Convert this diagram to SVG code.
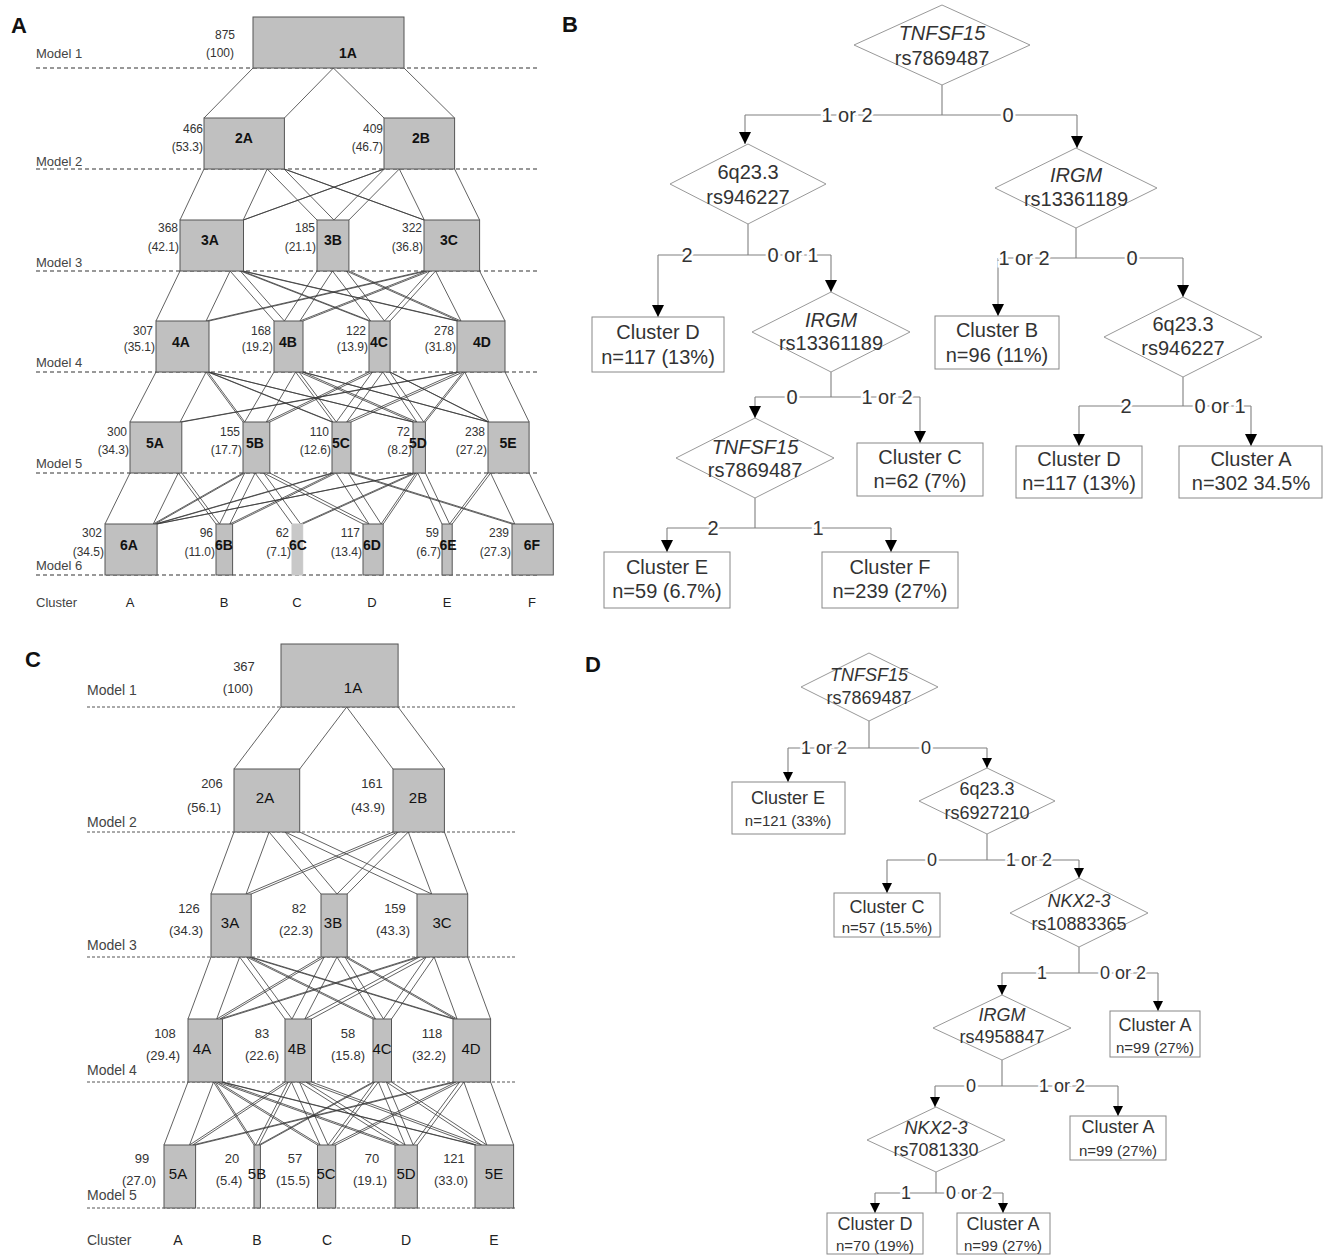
<svg xmlns="http://www.w3.org/2000/svg" width="1324" height="1255" viewBox="0 0 1324 1255">
<style>
.bg{fill:#fff}
.pl{font-family:"Liberation Sans",Arial,sans-serif;font-weight:bold;font-size:22px;fill:#111}
.nar{font-family:"Liberation Sans Narrow","Arial Narrow","Liberation Sans",sans-serif}
.dashA{stroke:#333;stroke-width:1.2;stroke-dasharray:4 3;fill:none}
.dashC{stroke:#555;stroke-width:1;stroke-dasharray:3 2;fill:none}
.flow{stroke:#3a3a3a;stroke-width:0.8;fill:none}
.box{fill:#c0c0c0;stroke:#555;stroke-width:1}
.mA{font-size:13px;fill:#444}
.nA{font-size:12px;fill:#333;text-anchor:end}
.lA{font-size:14px;font-weight:bold;fill:#111;text-anchor:middle;dominant-baseline:central}
.mC{font-size:14px;fill:#444}
.nC{font-size:13px;fill:#333;text-anchor:middle}
.lC{font-size:15px;fill:#111;text-anchor:middle;dominant-baseline:central}
.cl{text-anchor:middle}
.tl{stroke:#808080;stroke-width:1.1;fill:none}
.ar{stroke:#808080;stroke-width:1.1;fill:none}
.dia{fill:#fff;stroke:#999;stroke-width:1}
.tb{fill:#fff;stroke:#888;stroke-width:1}
.tB{font-family:"Liberation Sans",Arial,sans-serif;font-size:20px;fill:#333;text-anchor:middle;dominant-baseline:central}
.tD{font-family:"Liberation Sans",Arial,sans-serif;font-size:18px;fill:#333;text-anchor:middle;dominant-baseline:central}
.tDs{font-family:"Liberation Sans",Arial,sans-serif;font-size:15px;fill:#333;text-anchor:middle;dominant-baseline:central}
.it{font-style:italic}
.lbB{font-family:"Liberation Sans",Arial,sans-serif;font-size:20px;fill:#333;text-anchor:middle;dominant-baseline:central;stroke:#fff;stroke-width:5;paint-order:stroke}
.lbD{font-family:"Liberation Sans",Arial,sans-serif;font-size:18px;fill:#333;text-anchor:middle;dominant-baseline:central;stroke:#fff;stroke-width:5;paint-order:stroke}
</style>
<defs>
<marker id="ahB" viewBox="0 0 12 12" refX="12" refY="6" markerWidth="12" markerHeight="12" markerUnits="userSpaceOnUse" orient="auto"><path d="M0,0 L12,6 L0,12 z" fill="#000"/></marker>
<marker id="ahD" viewBox="0 0 10 10" refX="10" refY="5" markerWidth="10" markerHeight="10" markerUnits="userSpaceOnUse" orient="auto"><path d="M0,0 L10,5 L0,10 z" fill="#000"/></marker>
</defs>
<rect class="bg" x="0" y="0" width="1324" height="1255"/>

<text class="pl" x="11" y="33">A</text>
<text class="pl" x="562" y="32">B</text>
<text class="pl" x="25" y="667">C</text>
<text class="pl" x="585" y="672">D</text>

<!-- Panel A scaffolding -->
<g id="panelA-axes" class="nar">
<path class="dashA" d="M36 68H540 M36 169H540 M36 271H540 M36 372H540 M36 473H540 M36 575H540"/>
<text class="mA" x="36" y="58">Model 1</text>
<text class="mA" x="36" y="166">Model 2</text>
<text class="mA" x="36" y="267">Model 3</text>
<text class="mA" x="36" y="367">Model 4</text>
<text class="mA" x="36" y="468">Model 5</text>
<text class="mA" x="36" y="570">Model 6</text>
<text class="mA" x="36" y="607">Cluster</text>
<g class="cl" style="font-size:13px;fill:#222">
<text x="130" y="607">A</text><text x="224" y="607">B</text><text x="297" y="607">C</text><text x="372" y="607">D</text><text x="447" y="607">E</text><text x="532" y="607">F</text>
</g>
</g>

<g id="connectorsA">
<path class="flow" d="M253 68L204 118 M333.4 68L284.4 118 M333.4 68L384 118 M404 68L454.6 118"/>
<path class="flow" d="M204 169L180 220 M267.2 169L243.2 220 M267.2 169L317 220 M284.1 169L333.9 220 M284.1 169L424 220 M284.4 169L424.3 220 M384 169L243.2 220 M384.3 169L243.5 220 M384.3 169L333.9 220 M399.3 169L348.9 220 M399.3 169L424.3 220 M454.6 169L479.6 220"/>
<path class="flow" d="M180 271L156 321 M230.1 271L206.1 321 M230.1 271L274 321 M240.4 271L284.4 321 M240.4 271L369 321 M242.1 271L370.7 321 M242.1 271L457 321 M243.5 271L458.4 321 M317 271L284.4 321 M332.5 271L299.9 321 M332.5 271L370.7 321 M346.3 271L384.5 321 M346.3 271L458.4 321 M348.9 271L461 321 M424 271L206.1 321 M426.9 271L209 321 M426.9 271L299.9 321 M430 271L303 321 M430 271L384.5 321 M435.6 271L390.1 321 M435.6 271L461 321 M479.6 271L505 321"/>
<path class="flow" d="M156 372L130 422 M206.1 372L180.1 422 M206.1 372L243 422 M207.8 372L244.7 422 M207.8 372L332 422 M208.6 372L332.9 422 M208.6 372L413 422 M209 372L413.4 422 M274 372L244.7 422 M295.6 372L266.3 422 M295.6 372L332.9 422 M299 372L336.3 422 M299 372L413.4 422 M302.5 372L416.8 422 M302.5 372L488 422 M303 372L488.5 422 M369 372L266.3 422 M372.5 372L269.8 422 M372.5 372L336.3 422 M382.8 372L346.7 422 M382.8 372L416.8 422 M389.7 372L423.7 422 M389.7 372L488.5 422 M390.1 372L488.9 422 M457 372L180.1 422 M458.7 372L181.8 422 M458.7 372L346.7 422 M463.1 372L351 422 M463.1 372L423.7 422 M464.8 372L425.4 422 M464.8 372L488.9 422 M505 372L529.1 422"/>
<path class="flow" d="M130 473L105 524 M178.3 473L153.3 524 M178.3 473L216 524 M181.8 473L219.5 524 M243 473L153.3 524 M244.7 473L155.1 524 M244.7 473L219.5 524 M255.1 473L229.8 524 M255.1 473L292 524 M263.7 473L300.6 524 M263.7 473L363 524 M269.8 473L369 524 M332 473L155.1 524 M333.4 473L156.4 524 M333.4 473L229.8 524 M336.1 473L232.6 524 M336.1 473L369 524 M348.2 473L381.1 524 M348.2 473L512 524 M351 473L514.8 524 M413 473L156.4 524 M413.7 473L157.1 524 M413.7 473L300.6 524 M415.8 473L302.7 524 M415.8 473L381.1 524 M417.8 473L383.2 524 M417.8 473L442 524 M425.4 473L449.6 524 M488 473L449.6 524 M490.6 473L452.2 524 M490.6 473L514.8 524 M529.1 473L553.3 524"/>
</g>

<g class="nar">
<g id="A-1A"><rect class="box" x="253" y="17" width="151" height="51"/><text class="lA" x="348" y="53">1A</text><text class="nA" style="text-anchor:middle" x="225" y="39">875</text><text class="nA" style="text-anchor:middle" x="220" y="57">(100)</text></g>
<g id="A-2A"><rect class="box" x="204" y="118" width="80.4" height="51"/><text class="lA" x="244" y="138">2A</text><text class="nA" x="203" y="133">466</text><text class="nA" x="203" y="151">(53.3)</text></g>
<g id="A-2B"><rect class="box" x="384" y="118" width="70.6" height="51"/><text class="lA" x="421" y="138">2B</text><text class="nA" x="383" y="133">409</text><text class="nA" x="383" y="151">(46.7)</text></g>
<g id="A-3A"><rect class="box" x="180" y="220" width="63.5" height="51"/><text class="lA" x="210" y="240">3A</text><text class="nA" x="178" y="232">368</text><text class="nA" x="179" y="251">(42.1)</text></g>
<g id="A-3B"><rect class="box" x="317" y="220" width="31.9" height="51"/><text class="lA" x="333" y="240">3B</text><text class="nA" x="315" y="232">185</text><text class="nA" x="316" y="251">(21.1)</text></g>
<g id="A-3C"><rect class="box" x="424" y="220" width="55.6" height="51"/><text class="lA" x="449" y="240">3C</text><text class="nA" x="422" y="232">322</text><text class="nA" x="423" y="251">(36.8)</text></g>
<g id="A-4A"><rect class="box" x="156" y="321" width="53" height="51"/><text class="lA" x="181" y="342">4A</text><text class="nA" x="153" y="335">307</text><text class="nA" x="155" y="351">(35.1)</text></g>
<g id="A-4B"><rect class="box" x="274" y="321" width="29" height="51"/><text class="lA" x="288" y="342">4B</text><text class="nA" x="271" y="335">168</text><text class="nA" x="273" y="351">(19.2)</text></g>
<g id="A-4C"><rect class="box" x="369" y="321" width="21.1" height="51"/><text class="lA" x="379" y="342">4C</text><text class="nA" x="366" y="335">122</text><text class="nA" x="368" y="351">(13.9)</text></g>
<g id="A-4D"><rect class="box" x="457" y="321" width="48" height="51"/><text class="lA" x="482" y="342">4D</text><text class="nA" x="454" y="335">278</text><text class="nA" x="456" y="351">(31.8)</text></g>
<g id="A-5A"><rect class="box" x="130" y="422" width="51.8" height="51"/><text class="lA" x="155" y="443">5A</text><text class="nA" x="127" y="436">300</text><text class="nA" x="129" y="454">(34.3)</text></g>
<g id="A-5B"><rect class="box" x="243" y="422" width="26.8" height="51"/><text class="lA" x="255" y="443">5B</text><text class="nA" x="240" y="436">155</text><text class="nA" x="242" y="454">(17.7)</text></g>
<g id="A-5C"><rect class="box" x="332" y="422" width="19" height="51"/><text class="lA" x="341" y="443">5C</text><text class="nA" x="329" y="436">110</text><text class="nA" x="331" y="454">(12.6)</text></g>
<g id="A-5D"><rect class="box" x="413" y="422" width="12.4" height="51"/><text class="lA" x="418" y="443">5D</text><text class="nA" x="410" y="436">72</text><text class="nA" x="412" y="454">(8.2)</text></g>
<g id="A-5E"><rect class="box" x="488" y="422" width="41.1" height="51"/><text class="lA" x="508" y="443">5E</text><text class="nA" x="485" y="436">238</text><text class="nA" x="487" y="454">(27.2)</text></g>
<g id="A-6A"><rect class="box" x="105" y="524" width="52.1" height="51"/><text class="lA" x="129" y="545">6A</text><text class="nA" x="102" y="537">302</text><text class="nA" x="104" y="556">(34.5)</text></g>
<g id="A-6B"><rect class="box" x="216" y="524" width="16.6" height="51"/><text class="lA" x="224" y="545">6B</text><text class="nA" x="213" y="537">96</text><text class="nA" x="215" y="556">(11.0)</text></g>
<g id="A-6C"><rect class="box" x="292" y="524" width="10.7" height="51" style="fill:#c8c8c8;stroke:#c8c8c8"/><text class="lA" x="298" y="545">6C</text><text class="nA" x="289" y="537">62</text><text class="nA" x="291" y="556">(7.1)</text></g>
<g id="A-6D"><rect class="box" x="363" y="524" width="20.2" height="51"/><text class="lA" x="372" y="545">6D</text><text class="nA" x="360" y="537">117</text><text class="nA" x="362" y="556">(13.4)</text></g>
<g id="A-6E"><rect class="box" x="442" y="524" width="10.2" height="51"/><text class="lA" x="448" y="545">6E</text><text class="nA" x="439" y="537">59</text><text class="nA" x="441" y="556">(6.7)</text></g>
<g id="A-6F"><rect class="box" x="512" y="524" width="41.3" height="51"/><text class="lA" x="532" y="545">6F</text><text class="nA" x="509" y="537">239</text><text class="nA" x="511" y="556">(27.3)</text></g>
</g>

<!-- Panel C scaffolding -->
<g id="panelC-axes" class="nar">
<path class="dashC" d="M87 707H515 M87 832H515 M87 957H515 M87 1082H515 M87 1208H515"/>
<text class="mC" x="87" y="695">Model 1</text>
<text class="mC" x="87" y="827">Model 2</text>
<text class="mC" x="87" y="950">Model 3</text>
<text class="mC" x="87" y="1075">Model 4</text>
<text class="mC" x="87" y="1200">Model 5</text>
<text class="mC" x="87" y="1245">Cluster</text>
<g class="cl" style="font-size:14px;fill:#222">
<text x="178" y="1245">A</text><text x="257" y="1245">B</text><text x="327" y="1245">C</text><text x="406" y="1245">D</text><text x="494" y="1245">E</text>
</g>
</g>

<g id="connectorsC">
<path class="flow" d="M281 707L234 769 M346.7 707L299.7 769 M346.7 707L393 769 M398.1 707L444.4 769"/>
<path class="flow" d="M234 832L211 894 M269.1 832L246.1 894 M269.1 832L321 894 M285 832L337 894 M285 832L417 894 M299.7 832L431.7 894 M393 832L246.1 894 M398.1 832L251.2 894 M398.1 832L337 894 M408.3 832L347.2 894 M408.3 832L431.7 894 M444.4 832L467.7 894"/>
<path class="flow" d="M211 957L188 1019 M239.7 957L216.7 1019 M239.7 957L285 1019 M246.7 957L292 1019 M246.7 957L373 1019 M249.3 957L375.6 1019 M249.3 957L453 1019 M251.2 957L454.9 1019 M321 957L216.7 1019 M324.2 957L219.9 1019 M324.2 957L292 1019 M337 957L304.8 1019 M337 957L375.6 1019 M344.9 957L383.5 1019 M344.9 957L454.9 1019 M347.2 957L457.1 1019 M417 957L219.9 1019 M419.6 957L222.5 1019 M419.6 957L304.8 1019 M426.3 957L311.5 1019 M426.3 957L383.5 1019 M434.2 957L391.5 1019 M434.2 957L457.1 1019 M467.7 957L490.6 1019"/>
<path class="flow" d="M188 1082L164 1145 M213.5 1082L189.5 1145 M213.5 1082L254 1145 M215.1 1082L255.6 1145 M215.1 1082L317.5 1145 M217.7 1082L320.1 1145 M217.7 1082L395 1145 M221.5 1082L398.8 1145 M221.5 1082L475 1145 M222.5 1082L476 1145 M285 1082L189.5 1145 M288.2 1082L192.7 1145 M288.2 1082L255.6 1145 M291.4 1082L258.8 1145 M291.4 1082L320.1 1145 M299.4 1082L328 1145 M299.4 1082L398.8 1145 M305.7 1082L405.2 1145 M305.7 1082L476 1145 M311.5 1082L481.7 1145 M373 1082L258.8 1145 M374.6 1082L260.4 1145 M374.6 1082L328 1145 M378.4 1082L331.9 1145 M378.4 1082L405.2 1145 M386.4 1082L413.2 1145 M386.4 1082L481.7 1145 M391.5 1082L486.8 1145 M453 1082L192.7 1145 M455.9 1082L195.6 1145 M455.9 1082L331.9 1145 M459.7 1082L335.7 1145 M459.7 1082L413.2 1145 M463.9 1082L417.3 1145 M463.9 1082L486.8 1145 M490.6 1082L513.6 1145"/>
</g>

<g class="nar">
<g id="C-1A"><rect class="box" x="281" y="644" width="117.1" height="63"/><text class="lC" x="353" y="687">1A</text><text class="nC" x="244" y="671">367</text><text class="nC" x="238" y="693">(100)</text></g>
<g id="C-2A"><rect class="box" x="234" y="769" width="65.7" height="63"/><text class="lC" x="265" y="797">2A</text><text class="nC" x="212" y="788">206</text><text class="nC" x="204" y="812">(56.1)</text></g>
<g id="C-2B"><rect class="box" x="393" y="769" width="51.4" height="63"/><text class="lC" x="418" y="797">2B</text><text class="nC" x="372" y="788">161</text><text class="nC" x="368" y="812">(43.9)</text></g>
<g id="C-3A"><rect class="box" x="211" y="894" width="40.2" height="63"/><text class="lC" x="230" y="922">3A</text><text class="nC" x="189" y="913">126</text><text class="nC" x="186" y="935">(34.3)</text></g>
<g id="C-3B"><rect class="box" x="321" y="894" width="26.2" height="63"/><text class="lC" x="333" y="922">3B</text><text class="nC" x="299" y="913">82</text><text class="nC" x="296" y="935">(22.3)</text></g>
<g id="C-3C"><rect class="box" x="417" y="894" width="50.7" height="63"/><text class="lC" x="442" y="922">3C</text><text class="nC" x="395" y="913">159</text><text class="nC" x="393" y="935">(43.3)</text></g>
<g id="C-4A"><rect class="box" x="188" y="1019" width="34.5" height="63"/><text class="lC" x="202" y="1048">4A</text><text class="nC" x="165" y="1038">108</text><text class="nC" x="163" y="1060">(29.4)</text></g>
<g id="C-4B"><rect class="box" x="285" y="1019" width="26.5" height="63"/><text class="lC" x="297" y="1048">4B</text><text class="nC" x="262" y="1038">83</text><text class="nC" x="262" y="1060">(22.6)</text></g>
<g id="C-4C"><rect class="box" x="373" y="1019" width="18.5" height="63"/><text class="lC" x="382" y="1048">4C</text><text class="nC" x="348" y="1038">58</text><text class="nC" x="348" y="1060">(15.8)</text></g>
<g id="C-4D"><rect class="box" x="453" y="1019" width="37.6" height="63"/><text class="lC" x="471" y="1048">4D</text><text class="nC" x="432" y="1038">118</text><text class="nC" x="429" y="1060">(32.2)</text></g>
<g id="C-5A"><rect class="box" x="164" y="1145" width="31.6" height="63"/><text class="lC" x="178" y="1173">5A</text><text class="nC" x="142" y="1163">99</text><text class="nC" x="139" y="1185">(27.0)</text></g>
<g id="C-5B"><rect class="box" x="254" y="1145" width="6.4" height="63"/><text class="lC" x="257" y="1173">5B</text><text class="nC" x="232" y="1163">20</text><text class="nC" x="229" y="1185">(5.4)</text></g>
<g id="C-5C"><rect class="box" x="317.5" y="1145" width="18.2" height="63"/><text class="lC" x="326" y="1173">5C</text><text class="nC" x="295" y="1163">57</text><text class="nC" x="293" y="1185">(15.5)</text></g>
<g id="C-5D"><rect class="box" x="395" y="1145" width="22.3" height="63"/><text class="lC" x="406" y="1173">5D</text><text class="nC" x="372" y="1163">70</text><text class="nC" x="370" y="1185">(19.1)</text></g>
<g id="C-5E"><rect class="box" x="475" y="1145" width="38.6" height="63"/><text class="lC" x="494" y="1173">5E</text><text class="nC" x="454" y="1163">121</text><text class="nC" x="451" y="1185">(33.0)</text></g>
</g>

<!-- Panel B connectors -->
<g id="connectorsB">
<path class="tl" d="M942 85V115 M745 115H1077 M748 224V255 M658 255H831 M831 372V397 M755 397H920 M755 498V528 M667 528H891 M1076 228V258 M998 258H1183 M1183 377V406 M1079 406H1251"/>
<g class="ar" marker-end="url(#ahB)">
<path d="M745 115V144"/><path d="M1077 115V148"/>
<path d="M658 255V317"/><path d="M831 255V292"/>
<path d="M755 397V418"/><path d="M920 397V443"/>
<path d="M667 528V552"/><path d="M891 528V552"/>
<path d="M998 258V316"/><path d="M1183 258V297"/>
<path d="M1079 406V446"/><path d="M1251 406V446"/>
</g>
<text class="lbB" x="847" y="115">1 or 2</text><text class="lbB" x="1008" y="115">0</text>
<text class="lbB" x="687" y="255">2</text><text class="lbB" x="793" y="255">0 or 1</text>
<text class="lbB" x="792" y="397">0</text><text class="lbB" x="887" y="397">1 or 2</text>
<text class="lbB" x="713" y="528">2</text><text class="lbB" x="818" y="528">1</text>
<text class="lbB" x="1024" y="258">1 or 2</text><text class="lbB" x="1132" y="258">0</text>
<text class="lbB" x="1126" y="406">2</text><text class="lbB" x="1220" y="406">0 or 1</text>
</g>

<g id="B-n1"><polygon class="dia" points="942,5 1030,45 942,85 854,45"/><text class="tB it" x="942" y="33">TNFSF15</text><text class="tB" x="942" y="58">rs7869487</text></g>
<g id="B-n2"><polygon class="dia" points="748,144 826,184 748,224 670,184"/><text class="tB" x="748" y="172">6q23.3</text><text class="tB" x="748" y="197">rs946227</text></g>
<g id="B-n3"><polygon class="dia" points="831,292 910,332 831,372 752,332"/><text class="tB it" x="831" y="320">IRGM</text><text class="tB" x="831" y="343">rs13361189</text></g>
<g id="B-n4"><polygon class="dia" points="755,418 834,458 755,498 676,458"/><text class="tB it" x="755" y="447">TNFSF15</text><text class="tB" x="755" y="470">rs7869487</text></g>
<g id="B-n5"><polygon class="dia" points="1076,148 1157,188 1076,228 995,188"/><text class="tB it" x="1076" y="175">IRGM</text><text class="tB" x="1076" y="199">rs13361189</text></g>
<g id="B-n6"><polygon class="dia" points="1183,297 1262,337 1183,377 1104,337"/><text class="tB" x="1183" y="324">6q23.3</text><text class="tB" x="1183" y="348">rs946227</text></g>
<g id="B-cD1"><rect class="tb" x="592" y="317" width="132" height="55"/><text class="tB" x="658" y="332">Cluster D</text><text class="tB" x="658" y="357">n=117 (13%)</text></g>
<g id="B-cC"><rect class="tb" x="857" y="443" width="126" height="53"/><text class="tB" x="920" y="457">Cluster C</text><text class="tB" x="920" y="481">n=62 (7%)</text></g>
<g id="B-cE"><rect class="tb" x="604" y="552" width="126" height="56"/><text class="tB" x="667" y="567">Cluster E</text><text class="tB" x="667" y="591">n=59 (6.7%)</text></g>
<g id="B-cF"><rect class="tb" x="822" y="552" width="136" height="56"/><text class="tB" x="890" y="567">Cluster F</text><text class="tB" x="890" y="591">n=239 (27%)</text></g>
<g id="B-cB"><rect class="tb" x="935" y="316" width="124" height="53"/><text class="tB" x="997" y="330">Cluster B</text><text class="tB" x="997" y="355">n=96 (11%)</text></g>
<g id="B-cD2"><rect class="tb" x="1016" y="446" width="126" height="52"/><text class="tB" x="1079" y="459">Cluster D</text><text class="tB" x="1079" y="483">n=117 (13%)</text></g>
<g id="B-cA"><rect class="tb" x="1179" y="446" width="143" height="52"/><text class="tB" x="1251" y="459">Cluster A</text><text class="tB" x="1251" y="483">n=302 34.5%</text></g>

<!-- Panel D connectors -->
<g id="connectorsD">
<path class="tl" d="M869 721V748 M788 748H987 M987 834V860 M887 860H1079 M1079 947V973 M1002 973H1158 M1002 1060V1086 M935 1086H1118 M936 1172V1193 M875 1193H1003"/>
<g class="ar" marker-end="url(#ahD)">
<path d="M788 748V782"/><path d="M987 748V768"/>
<path d="M887 860V893"/><path d="M1079 860V878"/>
<path d="M1002 973V995"/><path d="M1158 973V1011"/>
<path d="M935 1086V1107"/><path d="M1118 1086V1116"/>
<path d="M875 1193V1213"/><path d="M1003 1193V1213"/>
</g>
<text class="lbD" x="824" y="748">1 or 2</text><text class="lbD" x="926" y="748">0</text>
<text class="lbD" x="932" y="860">0</text><text class="lbD" x="1029" y="860">1 or 2</text>
<text class="lbD" x="1042" y="973">1</text><text class="lbD" x="1123" y="973">0 or 2</text>
<text class="lbD" x="971" y="1086">0</text><text class="lbD" x="1062" y="1086">1 or 2</text>
<text class="lbD" x="906" y="1193">1</text><text class="lbD" x="969" y="1193">0 or 2</text>
</g>

<g id="D-n1"><polygon class="dia" points="869,653 938,687 869,721 801,687"/><text class="tD it" x="869" y="675">TNFSF15</text><text class="tD" x="869" y="698">rs7869487</text></g>
<g id="D-n2"><polygon class="dia" points="987,768 1055,801 987,834 919,801"/><text class="tD" x="987" y="789">6q23.3</text><text class="tD" x="987" y="813">rs6927210</text></g>
<g id="D-n3"><polygon class="dia" points="1079,878 1148,913 1079,947 1010,913"/><text class="tD it" x="1079" y="901">NKX2-3</text><text class="tD" x="1079" y="924">rs10883365</text></g>
<g id="D-n4"><polygon class="dia" points="1002,995 1071,1028 1002,1060 933,1028"/><text class="tD it" x="1002" y="1015">IRGM</text><text class="tD" x="1002" y="1037">rs4958847</text></g>
<g id="D-n5"><polygon class="dia" points="936,1107 1005,1140 936,1172 867,1140"/><text class="tD it" x="936" y="1128">NKX2-3</text><text class="tD" x="936" y="1150">rs7081330</text></g>
<g id="D-cE"><rect class="tb" x="732" y="782" width="113" height="52"/><text class="tD" x="788" y="798">Cluster E</text><text class="tDs" x="788" y="820">n=121 (33%)</text></g>
<g id="D-cC"><rect class="tb" x="834" y="893" width="106" height="44"/><text class="tD" x="887" y="907">Cluster C</text><text class="tDs" x="887" y="927">n=57 (15.5%)</text></g>
<g id="D-cA1"><rect class="tb" x="1110" y="1011" width="90" height="46"/><text class="tD" x="1155" y="1025">Cluster A</text><text class="tDs" x="1155" y="1047">n=99 (27%)</text></g>
<g id="D-cA2"><rect class="tb" x="1070" y="1116" width="96" height="44"/><text class="tD" x="1118" y="1127">Cluster A</text><text class="tDs" x="1118" y="1150">n=99 (27%)</text></g>
<g id="D-cD"><rect class="tb" x="827" y="1213" width="96" height="41"/><text class="tD" x="875" y="1224">Cluster D</text><text class="tDs" x="875" y="1245">n=70 (19%)</text></g>
<g id="D-cA3"><rect class="tb" x="957" y="1213" width="93" height="41"/><text class="tD" x="1003" y="1224">Cluster A</text><text class="tDs" x="1003" y="1245">n=99 (27%)</text></g>
</svg>
